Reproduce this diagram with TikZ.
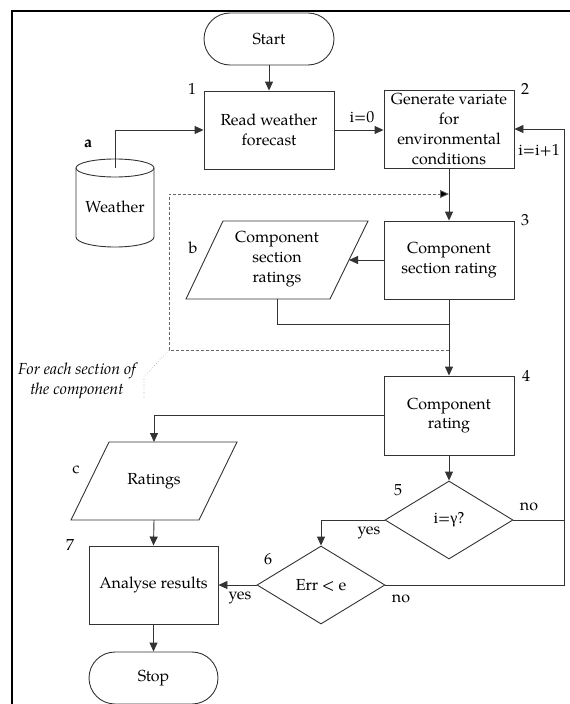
\documentclass[tikz,border=0pt]{standalone}
\usepackage{fontspec}
\setmainfont{TeX Gyre Pagella}
\newfontfamily\grk{Liberation Serif}
\usetikzlibrary{arrows.meta,shapes.geometric,calc}
\begin{document}
\begin{tikzpicture}[x=1pt,y=-1pt,
  every node/.style={font=\fontsize{16}{19.7}\selectfont, inner sep=0pt},
  ln/.style={draw=black!80, line width=0.9pt},
  arr/.style={ln, -{Triangle[length=9pt,width=8pt]}},
  box/.style={ln, rectangle, minimum width=130pt, minimum height=78pt, align=center},
  term/.style={ln, rectangle, rounded corners=26pt, minimum width=130pt, minimum height=52pt},
  dia/.style={ln, diamond, minimum width=128pt, minimum height=78pt},
  loopbox/.style={draw=black!60, line width=0.8pt, dash pattern=on 3pt off 2pt},
  capt/.style={font=\fontsize{16}{19.7}\selectfont\itshape, align=center}]
\clip (0,0) rectangle (570,704);
% frame
\draw[line width=2pt] (12,720) -- (12,11) -- (590,11);

% nodes
\node[term] (start) at (269,39) {Start};
\node[box] (b1) at (269,130) {Read weather\\forecast};
\node[box] (b2) at (449,129) {Generate variate\\for\\environmental\\conditions};
\node[box] (b3) at (449,260) {Component\\section rating};
\node[box, minimum height=79pt] (b4) at (449,415.5) {Component\\rating};
\node[dia] (d5) at (449,520) {i={\grk γ}?};
\node[dia] (d6) at (321,585) {Err < e};
\node[box, minimum width=129pt] (b7) at (153.5,585) {Analyse results};
\node[term, minimum width=129pt] (stop) at (153.5,678) {Stop};

% cylinder
\draw[ln] (76,168) -- (76,237) arc[start angle=180, end angle=360, x radius=39pt, y radius=10pt] -- (154,168);
\draw[ln] (115,168) ellipse[x radius=39pt, y radius=9pt];
\node (cyl) at (115,207) {Weather};
\coordinate (cylT) at (115,168);

% parallelogram b
\draw[ln] (223,221) -- (368,221) -- (330,299) -- (186,299) -- cycle;
\node[align=center] (pb) at (277,259) {Component\\section\\ratings};
\coordinate (pbE) at (349,260);
\coordinate (pbS) at (277,299);
\coordinate (j1) at (449,324);

% parallelogram c
\draw[ln] (109,442) -- (237,442) -- (199,520) -- (71,520) -- cycle;
\node (pc) at (154,481) {Ratings};
\coordinate (pcN) at (154,442);
\coordinate (pcS) at (154,520);

% labels
\node (l1) at (192,89) {1};
\node (l2) at (525,89) {2};
\node (l3) at (525,220) {3};
\node (l4) at (526,376) {4};
\node (l5) at (398,490) {5};
\node (l6) at (268,559) {6};
\node (l7) at (70,545) {7};
\node[font=\fontsize{16}{19.7}\selectfont\bfseries] (la) at (88,144) {a};
\node (lb) at (193,248) {b};
\node (lc) at (76,470) {c};
\node (i0) at (362,117) {i=0};
\node (ii) at (539,150) {i=i+1};
\node (no5) at (529,507) {no};
\node (yes5) at (369,533) {yes};
\node (no6) at (401,599) {no};
\node (yes6) at (240,598) {yes};
\node[capt] (cap) at (77,381) {For each section of\\the component};

% connectors
\draw[arr] (start) -- (b1);
\draw[arr] (cylT) |- (b1.west);
\draw[arr] (b1.east) -- (b1.east -| b2.west);
\draw[arr] (b2) -- (b3);
\draw[arr] (b3.west) -- (pbE);
\draw[ln] (pbS) |- (j1);
\draw[arr] (b3) -- (b4);
\draw[arr] (b4) -- (d5);
\draw[arr] (d5.west) -| (d6.north);
\coordinate (rr) at (564,520);
\draw[arr] (d5.east) -- (rr) |- (b2.east);
\draw[ln] (d6.east) -| (rr);
\draw[arr] (d6.west) -- (b7.east);
\draw[arr] (b4.west) -| (pcN);
\draw[arr] (pcS) -- (b7.north);
\draw[arr] (b7) -- (stop);

% dashed loop
\coordinate (dB) at (449,350);
\coordinate (dT) at (449,194);
\coordinate (dBL) at (169,350);
\coordinate (dTL) at (169,194);
\draw[loopbox] (dB) -- (dBL) -- (dTL) -- ($(dT)+(-8,0)$);
\draw[draw=black!60, line width=0.8pt, -{Triangle[length=9pt,width=8pt,fill=black]}] ($(dT)+(-9,0)$) -- (dT);
\draw[black!35, dotted, line width=0.6pt] (dBL) -- (144,377) -- (144,400);
\end{tikzpicture}
\end{document}
